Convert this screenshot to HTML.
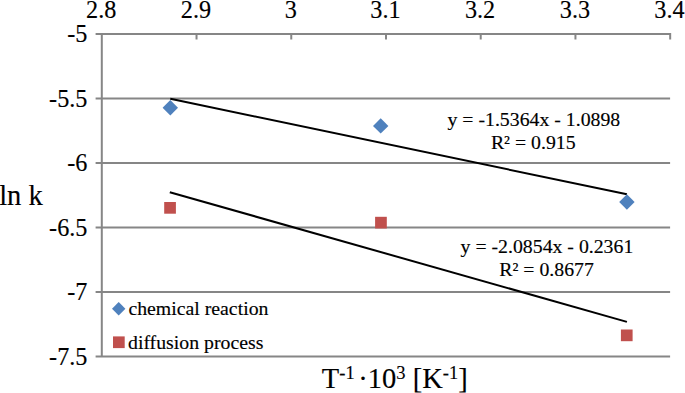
<!DOCTYPE html>
<html><head><meta charset="utf-8"><style>
html,body{margin:0;padding:0;background:#fff;}
body{width:685px;height:393px;overflow:hidden;position:relative;font-family:"Liberation Serif",serif;color:#000;}
svg{position:absolute;left:0;top:0;}
svg text{font-family:"Liberation Serif",serif;fill:#000;stroke:#000;stroke-width:0.15px;}
</style></head><body>
<svg width="685" height="393" viewBox="0 0 685 393">
<line x1="95.6" y1="34.00" x2="670.1" y2="34.00" stroke="#868686" stroke-width="2"/>
<line x1="95.6" y1="98.52" x2="670.1" y2="98.52" stroke="#868686" stroke-width="2"/>
<line x1="95.6" y1="163.04" x2="670.1" y2="163.04" stroke="#868686" stroke-width="2"/>
<line x1="95.6" y1="227.56" x2="670.1" y2="227.56" stroke="#868686" stroke-width="2"/>
<line x1="95.6" y1="292.08" x2="670.1" y2="292.08" stroke="#868686" stroke-width="2"/>
<line x1="95.6" y1="356.60" x2="670.1" y2="356.60" stroke="#868686" stroke-width="2"/>
<line x1="101.8" y1="33" x2="101.8" y2="356.6" stroke="#868686" stroke-width="2"/>
<line x1="196.53" y1="33" x2="196.53" y2="39.5" stroke="#868686" stroke-width="2"/>
<line x1="291.26" y1="33" x2="291.26" y2="39.5" stroke="#868686" stroke-width="2"/>
<line x1="385.99" y1="33" x2="385.99" y2="39.5" stroke="#868686" stroke-width="2"/>
<line x1="480.72" y1="33" x2="480.72" y2="39.5" stroke="#868686" stroke-width="2"/>
<line x1="575.45" y1="33" x2="575.45" y2="39.5" stroke="#868686" stroke-width="2"/>
<line x1="670.18" y1="33" x2="670.18" y2="39.5" stroke="#868686" stroke-width="2"/>
<line x1="170.3" y1="98.8" x2="626.9" y2="194.3" stroke="#000" stroke-width="2"/>
<line x1="169.8" y1="192.2" x2="626.9" y2="321.9" stroke="#000" stroke-width="2"/>
<path d="M162.6 107.7L170.3 100.0L178.0 107.7L170.3 115.4Z" fill="#4F81BD"/>
<path d="M373.0 125.9L380.7 118.2L388.4 125.9L380.7 133.6Z" fill="#4F81BD"/>
<path d="M619.2 202.0L626.9 194.3L634.6 202.0L626.9 209.7Z" fill="#4F81BD"/>
<rect x="164.2" y="202.0" width="11.7" height="11.7" fill="#C0504D"/>
<rect x="375.1" y="216.8" width="11.7" height="11.7" fill="#C0504D"/>
<rect x="620.9" y="329.5" width="11.7" height="11.7" fill="#C0504D"/>
<path d="M112.0 308.8L118.7 302.1L125.4 308.8L118.7 315.5Z" fill="#4F81BD"/>
<rect x="113.0" y="336.4" width="11.7" height="11.7" fill="#C0504D"/>
<g font-size="24.2" text-anchor="middle">
<text x="101.2" y="18.4">2.8</text>
<text x="195.9" y="18.4">2.9</text>
<text x="290.7" y="18.4">3</text>
<text x="385.4" y="18.4">3.1</text>
<text x="480.1" y="18.4">3.2</text>
<text x="574.9" y="18.4">3.3</text>
<text x="669.4" y="18.4">3.4</text>
</g>
<g font-size="24.2" text-anchor="end">
<text x="87.4" y="42.2">-5</text>
<text x="87.4" y="106.7">-5.5</text>
<text x="87.4" y="171.2">-6</text>
<text x="87.4" y="235.7">-6.5</text>
<text x="87.4" y="300.2">-7</text>
<text x="87.4" y="364.7">-7.5</text>
</g>
<text x="-0.8" y="205.4" font-size="28.5">ln k</text>
<text x="321.8" y="387.6" font-size="28.5">T<tspan font-size="18.5" dy="-9">-1</tspan><tspan dy="9" dx="-3.5"> ·10</tspan><tspan font-size="18.5" dy="-9">3</tspan><tspan dy="9"> [K</tspan><tspan font-size="18.5" dy="-9">-1</tspan><tspan dy="9">]</tspan></text>
<g font-size="19.8">
<text x="447.5" y="126">y = -1.5364x - 1.0898</text>
<text x="490.9" y="149.1">R² = 0.915</text>
<text x="460.6" y="253">y = -2.0854x - 0.2361</text>
<text x="499.3" y="276">R² = 0.8677</text>
<text x="128.4" y="315">chemical reaction</text>
<text x="128" y="348.6">diffusion process</text>
</g>
</svg>
</body></html>
